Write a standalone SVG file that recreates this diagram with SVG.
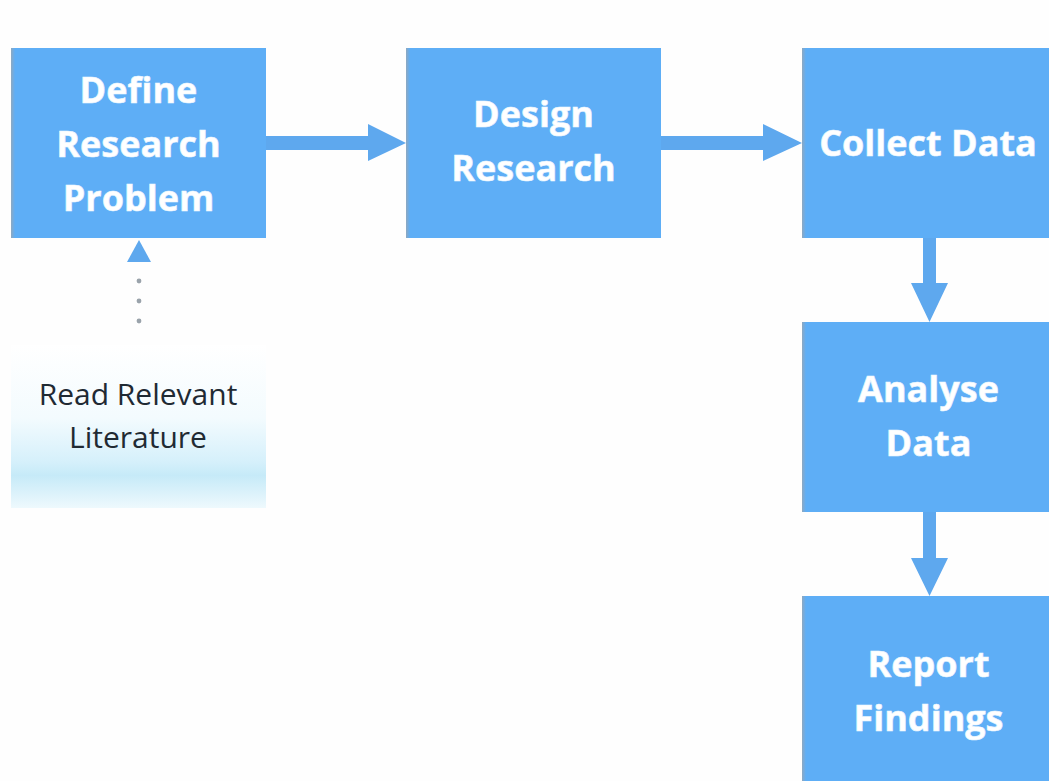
<svg xmlns="http://www.w3.org/2000/svg" width="1049" height="781" viewBox="0 0 1049 781">
  <style>
    .box { fill: #5eaef6; }
    .edge { fill: url(#edgeShade); }
    .label { font-family: "Open Sans", "Liberation Sans", sans-serif; font-weight: 700; font-size: 36px; fill: #ffffff; text-anchor: middle; stroke: #eaf6ff; stroke-width: 0.6; }
    .note { font-family: "Open Sans", "Liberation Sans", sans-serif; font-size: 30px; fill: #1f2a33; text-anchor: middle; }
    .conn { fill: #5ea8ee; }
    .dot { fill: #9aa3ab; }
  </style>
  <defs>
    <linearGradient id="edgeShade" x1="0" y1="0" x2="1" y2="0">
      <stop offset="0" stop-color="#8ea8c0"/>
      <stop offset="1" stop-color="#5eaef6"/>
    </linearGradient>
    <linearGradient id="noteFill" x1="0" y1="0" x2="0" y2="1">
      <stop offset="0" stop-color="#ffffff"/>
      <stop offset="0.45" stop-color="#f3fbfe"/>
      <stop offset="0.72" stop-color="#d5f0fb"/>
      <stop offset="0.8" stop-color="#c6eaf8"/>
      <stop offset="1" stop-color="#eef9fd"/>
    </linearGradient>
  </defs>

  <rect width="1049" height="781" fill="#fefefe"/>

  <!-- connectors -->
  <g id="connectors">
    <!-- Define Research Problem -> Design Research -->
    <polygon class="conn" points="266,136 368,136 368,124 406,143 368,161 368,150 266,150"/>
    <!-- Design Research -> Collect Data -->
    <polygon class="conn" points="661,136 763,136 763,124 802,143 763,161 763,150 661,150"/>
    <!-- Collect Data -> Analyse Data -->
    <polygon class="conn" points="923,238 936,238 936,283 948,283 929.5,322 911,283 923,283"/>
    <!-- Analyse Data -> Report Findings -->
    <polygon class="conn" points="923,512 936,512 936,558 948,558 929.5,596 911,558 923,558"/>
    <!-- Read Relevant Literature feeds Define Research Problem -->
    <g id="dotted-link">
      <circle class="dot" cx="139" cy="321" r="2.4"/>
      <circle class="dot" cx="139" cy="301" r="2.4"/>
      <circle class="dot" cx="139" cy="281" r="2.4"/>
      <polygon class="conn" points="139,240 151,262 127,262"/>
    </g>
  </g>

  <g id="define-research-problem">
    <rect class="box" x="11" y="48" width="255" height="190"/>
    <rect class="edge" x="11" y="48" width="4" height="190"/>
    <text class="label" x="138.5" y="103">Define</text>
    <text class="label" x="138.5" y="157">Research</text>
    <text class="label" x="138.5" y="211">Problem</text>
  </g>

  <g id="design-research">
    <rect class="box" x="406" y="48" width="255" height="190"/>
    <rect class="edge" x="406" y="48" width="4" height="190"/>
    <text class="label" x="533.5" y="127">Design</text>
    <text class="label" x="533.5" y="181">Research</text>
  </g>

  <g id="collect-data">
    <rect class="box" x="802" y="48" width="255" height="190"/>
    <rect class="edge" x="802" y="48" width="4" height="190"/>
    <text class="label" x="928" y="156">Collect Data</text>
  </g>

  <g id="analyse-data">
    <rect class="box" x="802" y="322" width="255" height="190"/>
    <rect class="edge" x="802" y="322" width="4" height="190"/>
    <text class="label" x="928.5" y="402">Analyse</text>
    <text class="label" x="928.5" y="456">Data</text>
  </g>

  <g id="report-findings">
    <rect class="box" x="802" y="596" width="255" height="190"/>
    <rect class="edge" x="802" y="596" width="4" height="190"/>
    <text class="label" x="928.5" y="677">Report</text>
    <text class="label" x="928.5" y="731">Findings</text>
  </g>

  <g id="read-relevant-literature">
    <rect x="11" y="345" width="255" height="163" fill="url(#noteFill)"/>
    <text class="note" x="138" y="405">Read Relevant</text>
    <text class="note" x="138" y="448">Literature</text>
  </g>
</svg>
